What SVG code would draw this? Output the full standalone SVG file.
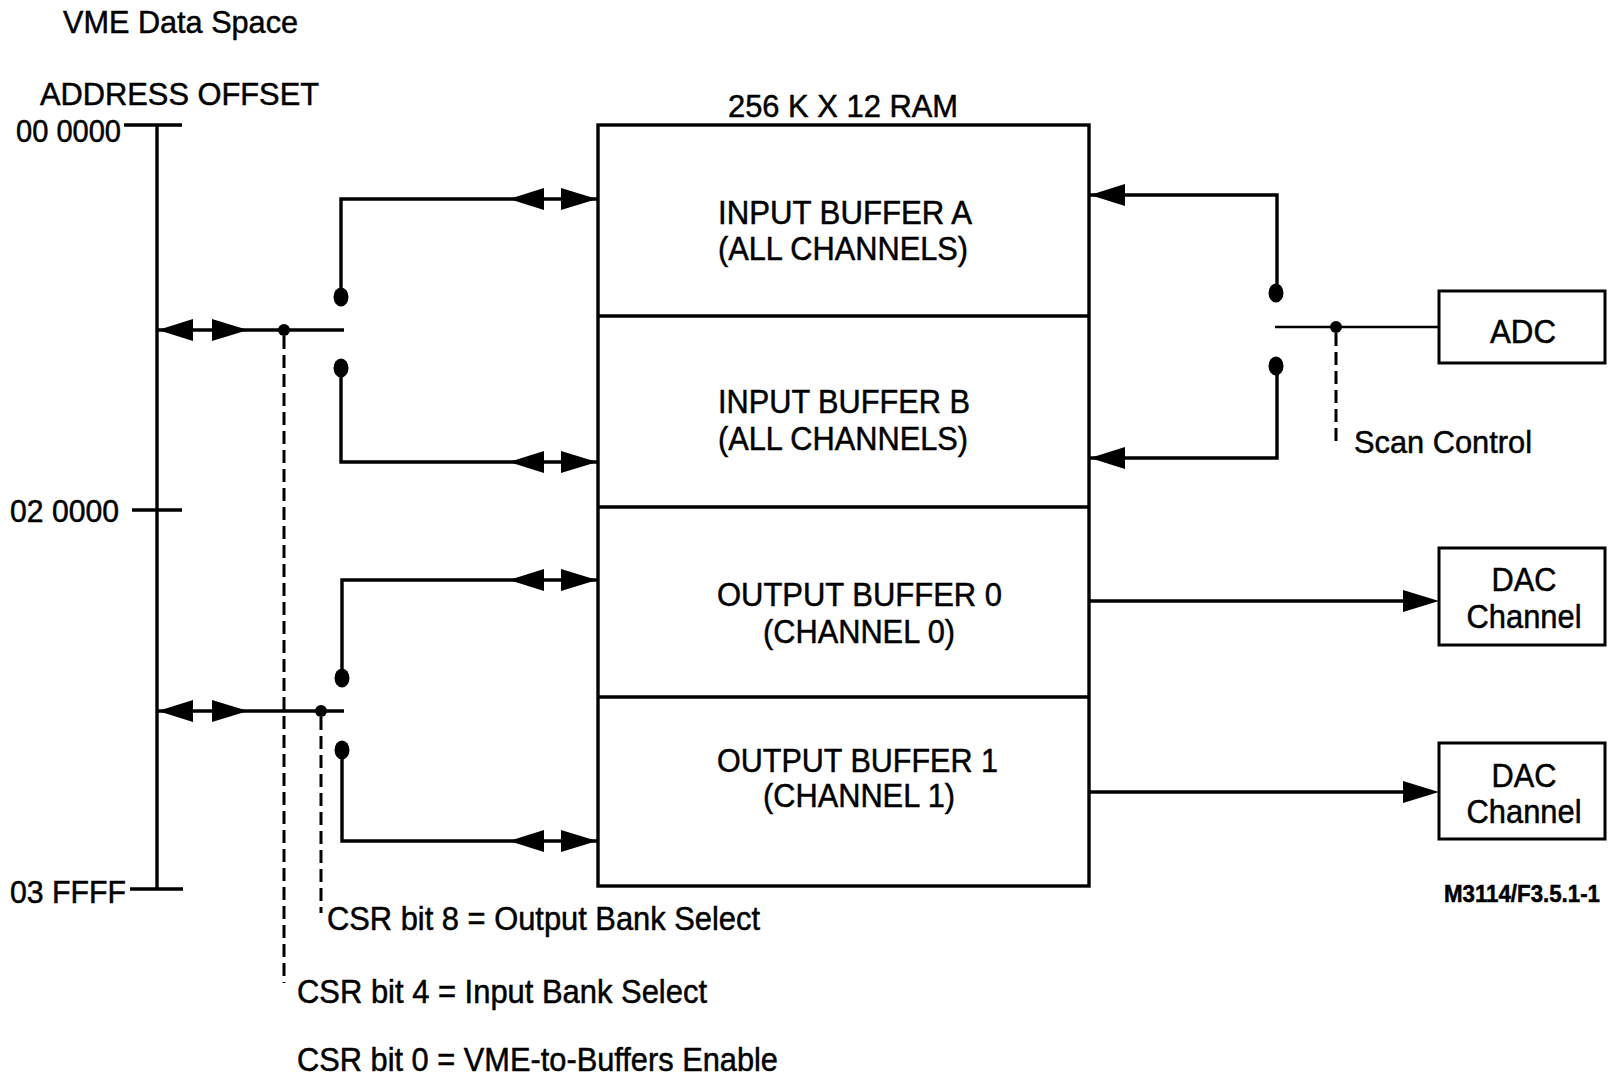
<svg xmlns="http://www.w3.org/2000/svg" xmlns:xlink="http://www.w3.org/1999/xlink" width="1611" height="1082" viewBox="0 0 1611 1082">
<style>
text{font-family:"Liberation Sans",Arial,Helvetica,sans-serif;fill:#000;stroke:#000;stroke-width:0.5;}
.t{font-size:32px;}
.b{font-size:33px;}
.m{text-anchor:middle;}
.ln{fill:none;stroke:#000;stroke-width:3.4;}
.thin{fill:none;stroke:#000;stroke-width:2.4;}
.box{fill:#fff;stroke:#000;stroke-width:3.4;}
.sbox{fill:#fff;stroke:#000;stroke-width:3;}
.dash{fill:none;stroke:#000;stroke-width:3;stroke-dasharray:13 6;}
.dot{fill:#000;}
</style>
<defs>
<path id="ahR" d="M0,0 L-36,-11 L-36,11 Z"/>
<path id="ahL" d="M0,0 L35,-11 L35,11 Z"/>
</defs>
<rect width="1611" height="1082" fill="#fff"/>

<g id="titles">
<text class="t" x="63" y="33" textLength="235" lengthAdjust="spacingAndGlyphs">VME Data Space</text>
<text class="t" x="40" y="105" textLength="279" lengthAdjust="spacingAndGlyphs">ADDRESS OFFSET</text>
</g>

<g id="address-axis">
<path class="ln" d="M157,125 V889 M124,125 H182 M132,510 H182 M130,889 H183"/>
<text class="t" x="16" y="142" textLength="105" lengthAdjust="spacingAndGlyphs">00 0000</text>
<text class="t" x="10" y="522" textLength="109" lengthAdjust="spacingAndGlyphs">02 0000</text>
<text class="t" x="10" y="903" textLength="116" lengthAdjust="spacingAndGlyphs">03 FFFF</text>
</g>

<g id="ram">
<text class="t" x="728" y="117" textLength="230" lengthAdjust="spacingAndGlyphs">256 K X 12 RAM</text>
<rect class="box" x="598" y="125" width="491" height="761"/>
<g id="input-buffer-a">
<text class="b" x="718" y="224" textLength="254" lengthAdjust="spacingAndGlyphs">INPUT BUFFER A</text>
<text class="b" x="718" y="260" textLength="250" lengthAdjust="spacingAndGlyphs">(ALL CHANNELS)</text>
</g>
<g id="input-buffer-b">
<path class="ln" d="M598,316 H1089"/>
<text class="b" x="718" y="413" textLength="252" lengthAdjust="spacingAndGlyphs">INPUT BUFFER B</text>
<text class="b" x="718" y="450" textLength="250" lengthAdjust="spacingAndGlyphs">(ALL CHANNELS)</text>
</g>
<g id="output-buffer-0">
<path class="ln" d="M598,507 H1089"/>
<text class="b" x="717" y="606" textLength="285" lengthAdjust="spacingAndGlyphs">OUTPUT BUFFER 0</text>
<text class="b" x="763" y="643" textLength="192" lengthAdjust="spacingAndGlyphs">(CHANNEL 0)</text>
</g>
<g id="output-buffer-1">
<path class="ln" d="M598,697 H1089"/>
<text class="b" x="717" y="772" textLength="281" lengthAdjust="spacingAndGlyphs">OUTPUT BUFFER 1</text>
<text class="b" x="763" y="807" textLength="192" lengthAdjust="spacingAndGlyphs">(CHANNEL 1)</text>
</g>
</g>

<g id="adc">
<rect class="sbox" x="1439" y="291" width="166" height="72"/>
<text class="b m" x="1523" y="343" textLength="66" lengthAdjust="spacingAndGlyphs">ADC</text>
</g>
<g id="dac-0">
<rect class="sbox" x="1439" y="548" width="166" height="97"/>
<text class="b m" x="1524" y="591" textLength="65" lengthAdjust="spacingAndGlyphs">DAC</text>
<text class="b m" x="1524" y="628" textLength="115" lengthAdjust="spacingAndGlyphs">Channel</text>
</g>
<g id="dac-1">
<rect class="sbox" x="1439" y="743" width="166" height="96"/>
<text class="b m" x="1524" y="787" textLength="65" lengthAdjust="spacingAndGlyphs">DAC</text>
<text class="b m" x="1524" y="823" textLength="115" lengthAdjust="spacingAndGlyphs">Channel</text>
</g>

<g id="labels">
<text class="t" x="1354" y="453" textLength="178" lengthAdjust="spacingAndGlyphs">Scan Control</text>
<text x="1444" y="902" font-size="23" font-weight="bold" textLength="156" lengthAdjust="spacingAndGlyphs">M3114/F3.5.1-1</text>
<text class="b" x="327" y="930" textLength="433" lengthAdjust="spacingAndGlyphs">CSR bit 8 = Output Bank Select</text>
<text class="b" x="297" y="1003" textLength="410" lengthAdjust="spacingAndGlyphs">CSR bit 4 = Input Bank Select</text>
<text class="b" x="297" y="1071" textLength="481" lengthAdjust="spacingAndGlyphs">CSR bit 0 = VME-to-Buffers Enable</text>
</g>

<g id="connectors">
<!-- input bank switch -->
<path class="ln" d="M341,297 V199 H597"/>
<use xlink:href="#ahL" x="509" y="199"/>
<use xlink:href="#ahR" x="597" y="199"/>
<path class="ln" d="M341,368 V462 H597"/>
<use xlink:href="#ahL" x="509" y="462"/>
<use xlink:href="#ahR" x="597" y="462"/>
<ellipse class="dot" cx="341" cy="297" rx="7.5" ry="9.5"/>
<ellipse class="dot" cx="341" cy="368" rx="7.5" ry="9.5"/>
<path class="ln" d="M158,330 H344"/>
<use xlink:href="#ahL" x="158" y="330"/>
<use xlink:href="#ahR" x="248" y="330"/>
<circle class="dot" cx="284" cy="330" r="6"/>
<path class="dash" d="M284,336 V983"/>
<!-- output bank switch -->
<path class="ln" d="M342,678 V580 H597"/>
<use xlink:href="#ahL" x="509" y="580"/>
<use xlink:href="#ahR" x="597" y="580"/>
<path class="ln" d="M342,750 V841 H597"/>
<use xlink:href="#ahL" x="509" y="841"/>
<use xlink:href="#ahR" x="597" y="841"/>
<ellipse class="dot" cx="342" cy="678" rx="7.5" ry="9.5"/>
<ellipse class="dot" cx="342" cy="750" rx="7.5" ry="9.5"/>
<path class="ln" d="M158,711 H344"/>
<use xlink:href="#ahL" x="158" y="711"/>
<use xlink:href="#ahR" x="248" y="711"/>
<circle class="dot" cx="321" cy="711" r="6"/>
<path class="dash" d="M321,717 V913"/>
<!-- ADC scan switch -->
<path class="ln" d="M1277,293 V195 H1090"/>
<use xlink:href="#ahL" x="1090" y="195"/>
<path class="ln" d="M1277,366 V458 H1090"/>
<use xlink:href="#ahL" x="1090" y="458"/>
<ellipse class="dot" cx="1276" cy="293" rx="7.5" ry="9.5"/>
<ellipse class="dot" cx="1276" cy="366" rx="7.5" ry="9.5"/>
<path class="thin" d="M1275,327 H1439"/>
<circle class="dot" cx="1336" cy="327" r="6"/>
<path class="dash" d="M1336,333 V445"/>
<!-- DAC outputs -->
<path class="ln" d="M1089,601 H1405"/>
<use xlink:href="#ahR" x="1439" y="601"/>
<path class="ln" d="M1089,792 H1405"/>
<use xlink:href="#ahR" x="1439" y="792"/>
</g>
</svg>
